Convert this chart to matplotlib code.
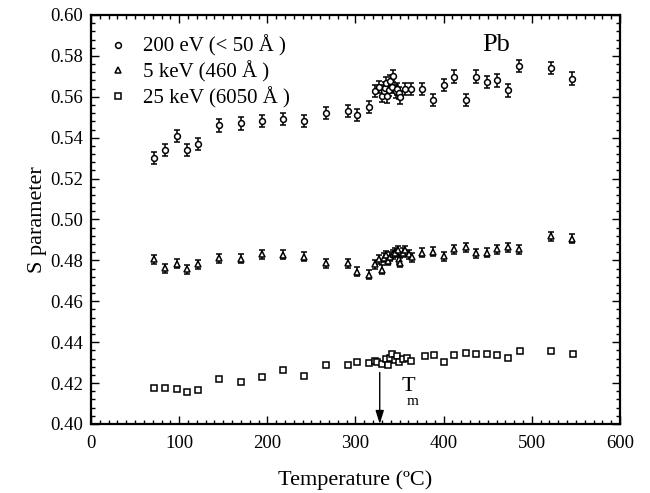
import matplotlib
matplotlib.use("Agg")
import matplotlib.pyplot as plt
from matplotlib.ticker import MultipleLocator, FormatStrFormatter

plt.rcParams['font.family'] = ['Liberation Serif', 'DejaVu Serif']

# ---- data ----
t_200ev = [72, 84, 97, 109, 121, 145, 170, 194, 218, 242, 267, 291, 302, 315,
           322, 326.6, 329.6, 332.2, 333.5, 334.8, 336, 337.9, 339.7, 341.6, 342.7,
           345.4, 347.3, 349.2, 351, 356.5, 363.5,
           376, 388, 400, 412, 425, 437, 449, 461, 473, 486, 522, 546]
s_200ev = [0.530, 0.534, 0.541, 0.534, 0.537, 0.546, 0.547, 0.548, 0.549, 0.548, 0.552, 0.553, 0.551, 0.555,
           0.563, 0.5647, 0.5605, 0.5626, 0.5642, 0.5667, 0.5602, 0.5634, 0.5675, 0.565, 0.5702,
           0.5626, 0.5637, 0.5618, 0.5597, 0.5637, 0.5637,
           0.5639, 0.5585, 0.5659, 0.5699, 0.5585, 0.5699, 0.5672, 0.568, 0.5631, 0.5751, 0.574, 0.5689]

t_5kev = [72, 84, 97, 109, 121, 145, 170, 194, 218, 242, 267, 291, 302, 315,
          322, 326.6, 329.6, 332.2, 334.8, 337.1, 339.7, 342.4, 344.6, 348, 349.2, 351,
          353.7, 356.7, 360.5, 364,
          376, 388, 400, 412, 425, 437, 449, 461, 473, 486, 522, 546]
s_5kev = [0.4805, 0.4761, 0.4784, 0.4756, 0.478, 0.481, 0.4808, 0.4831, 0.4828, 0.4818, 0.4785, 0.4785, 0.4745, 0.473,
          0.478, 0.4805, 0.4753, 0.4813, 0.4824, 0.4797, 0.4818, 0.4829, 0.4837, 0.485, 0.4805, 0.4789,
          0.4837, 0.485, 0.4829, 0.4816,
          0.4837, 0.4842, 0.4821, 0.4854, 0.4865, 0.4834, 0.4837, 0.4854, 0.4865, 0.4854, 0.4919, 0.4907]

t_25kev = [72, 84, 97, 109, 121, 145, 170, 194, 218, 242, 267, 291, 302, 315,
           322, 324.7, 329.6, 334.1, 337.1, 339.7, 341.6, 344.6, 347.3, 349.9, 353.7, 358.6, 363.5,
           379, 389, 400, 412, 425, 437, 449, 461, 473, 487, 522, 547]
s_25kev = [0.4176, 0.4176, 0.4171, 0.4155, 0.4168, 0.422, 0.4203, 0.4231, 0.4263, 0.4233, 0.4288, 0.4289, 0.4301, 0.4298,
           0.4307, 0.4304, 0.4293, 0.4317, 0.4288, 0.4325, 0.4341, 0.4314, 0.433, 0.4301, 0.4317, 0.4325, 0.4309,
           0.4333, 0.4337, 0.4301, 0.4337, 0.4346, 0.4341, 0.4341, 0.4338, 0.4322, 0.4358, 0.4355, 0.4341]

err_200ev = 0.003
err_5kev = 0.0022

labels = ['200 eV (< 50 Å )', '5 keV (460 Å )', '25 keV (6050 Å )']
t_melt = 327.5

# ---- figure ----
fig = plt.figure(figsize=(6.5, 4.93), dpi=100)
ax = fig.add_axes([0.14, 0.140, 0.8138, 0.8296])

eb_kw = dict(color='black', ecolor='black', elinewidth=1.1, capsize=2.4, capthick=1.1,
             linestyle='none', mfc='white', mec='black', mew=1.1)
c1 = ax.errorbar(t_200ev, s_200ev, yerr=err_200ev, marker='o', ms=4.2, **eb_kw)
c2 = ax.errorbar(t_5kev, s_5kev, yerr=err_5kev, marker='^', ms=4.6, **eb_kw)
h3, = ax.plot(t_25kev, s_25kev, linestyle='none', marker='s', ms=3.8,
              mfc='white', mec='black', mew=1.1)

ax.set_xlim(0, 600)
ax.set_ylim(0.40, 0.60)
ax.xaxis.set_major_locator(MultipleLocator(100))
ax.xaxis.set_minor_locator(MultipleLocator(10))
ax.yaxis.set_major_locator(MultipleLocator(0.02))
ax.yaxis.set_minor_locator(MultipleLocator(0.004))
ax.yaxis.set_major_formatter(FormatStrFormatter('%.2f'))
ax.tick_params(which='both', direction='in', top=True, right=True, width=1.0)
ax.tick_params(which='major', length=5.5, labelsize=13.5)
ax.tick_params(axis='y', which='major', pad=6)
ax.tick_params(axis='x', which='major', pad=8)
ax.tick_params(which='minor', length=3.2)
for sp in ax.spines.values():
    sp.set_linewidth(1.6)

ax.set_xlabel('Temperature (ºC)', fontsize=16, labelpad=13)
ax.set_ylabel('S parameter', fontsize=16, labelpad=2)

leg = ax.legend([c1.lines[0], c2.lines[0], h3], labels, loc='upper left',
                bbox_to_anchor=(0.031, 0.950), frameon=False, fontsize=15,
                handlelength=1.0, handletextpad=0.7, labelspacing=0.2,
                borderpad=0, borderaxespad=0, numpoints=1)

ax.text(460, 0.5854, 'Pb', fontsize=19, ha='center', va='center')

ax.annotate('', xy=(t_melt, 0.400), xytext=(t_melt, 0.4252),
            arrowprops=dict(arrowstyle='-|>,head_length=0.8,head_width=0.25', color='black', lw=1.0,
                            mutation_scale=10, shrinkA=0, shrinkB=0))
ax.text(352, 0.4185, 'T', fontsize=16, ha='left', va='center')
ax.text(357.5, 0.4112, 'm', fontsize=11, ha='left', va='center')

fig.savefig('out.png', dpi=100)
